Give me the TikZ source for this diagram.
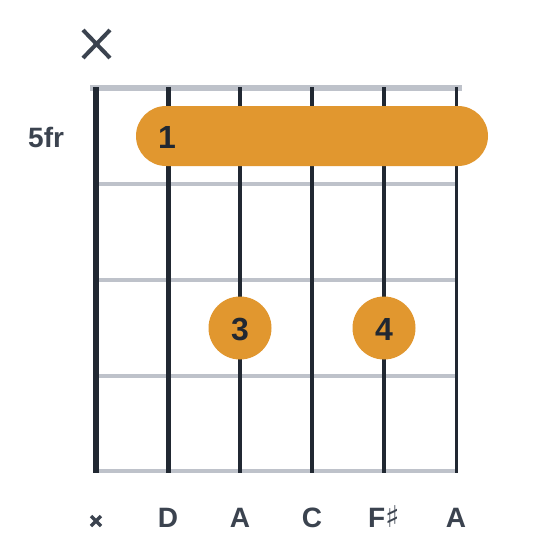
\documentclass[tikz,border=0pt]{standalone}
\usepackage{fontspec}
\setmainfont{Liberation Sans}
\newfontfamily\symfont{DejaVu Sans}
\definecolor{strcol}{HTML}{212832}
\definecolor{fretcol}{HTML}{BEC2CA}
\definecolor{dotcol}{HTML}{E1972F}
\definecolor{labcol}{HTML}{3B434F}
\tikzset{
  fret/.style={draw=fretcol, line width=4pt},
  guitarstring/.style={draw=strcol},
  fingerdot/.style={circle, fill=dotcol, minimum size=63pt, inner sep=0pt},
  fingertext/.style={anchor=base, text=strcol, font=\fontsize{32}{32}\selectfont\bfseries},
  stringlabel/.style={anchor=base, text=labcol, font=\fontsize{28}{28}\selectfont\bfseries},
  mutemark/.style={draw=labcol, line cap=butt},
}
\begin{document}
\begin{tikzpicture}[x=1pt,y=-1pt]
\useasboundingbox (0,0) rectangle (560,560);
\fill[white] (0,0) rectangle (560,560);
% frets
\draw[fret, line width=6pt] (90,88) -- (462,88);
\foreach \y in {184,280,376} {\draw[fret] (96,\y) -- (456,\y);}
\draw[fret] (96,471) -- (457,471);
% strings
\foreach \x/\w in {96/6.5,168/5,240/4.4,312/4,384/3.4,456/3} {
  \draw[guitarstring, line width=\w pt] (\x,87) -- (\x,473);
}
% barre
\node[fill=dotcol, rounded corners=30pt, minimum width=352pt, minimum height=60pt, inner sep=0pt] (barre) at (312,136) {};
\node[fingertext] (f1) at (167,148) {1};
% dots
\node[fingerdot] (d3) at (240,328) {};
\node[fingertext] (f3) at (240,340) {3};
\node[fingerdot] (d4) at (384,328) {};
\node[fingertext] (f4) at (384,340) {4};
% fret number
\node[anchor=base west, inner sep=0pt, text=labcol, font=\fontsize{28}{28}\selectfont\bfseries] (fr) at (28,147) {5fr};
% big X (muted)
\draw[mutemark, line width=4pt] (83,30) -- (110,58) (110,30) -- (83,58);
% string labels
\draw[mutemark, line width=3.5pt] (91,516) -- (101,526) (101,516) -- (91,526);
\node[stringlabel] (l2) at (168,527) {D};
\node[stringlabel] (l3) at (240,527) {A};
\node[stringlabel] (l4) at (312,527) {C};
\node[stringlabel, anchor=base west, inner sep=0pt] (l5) at (368,527) {F{\symfont\mdseries\fontsize{30}{30}\selectfont ♯}};
\node[stringlabel] (l6) at (456,527) {A};
\end{tikzpicture}
\end{document}
